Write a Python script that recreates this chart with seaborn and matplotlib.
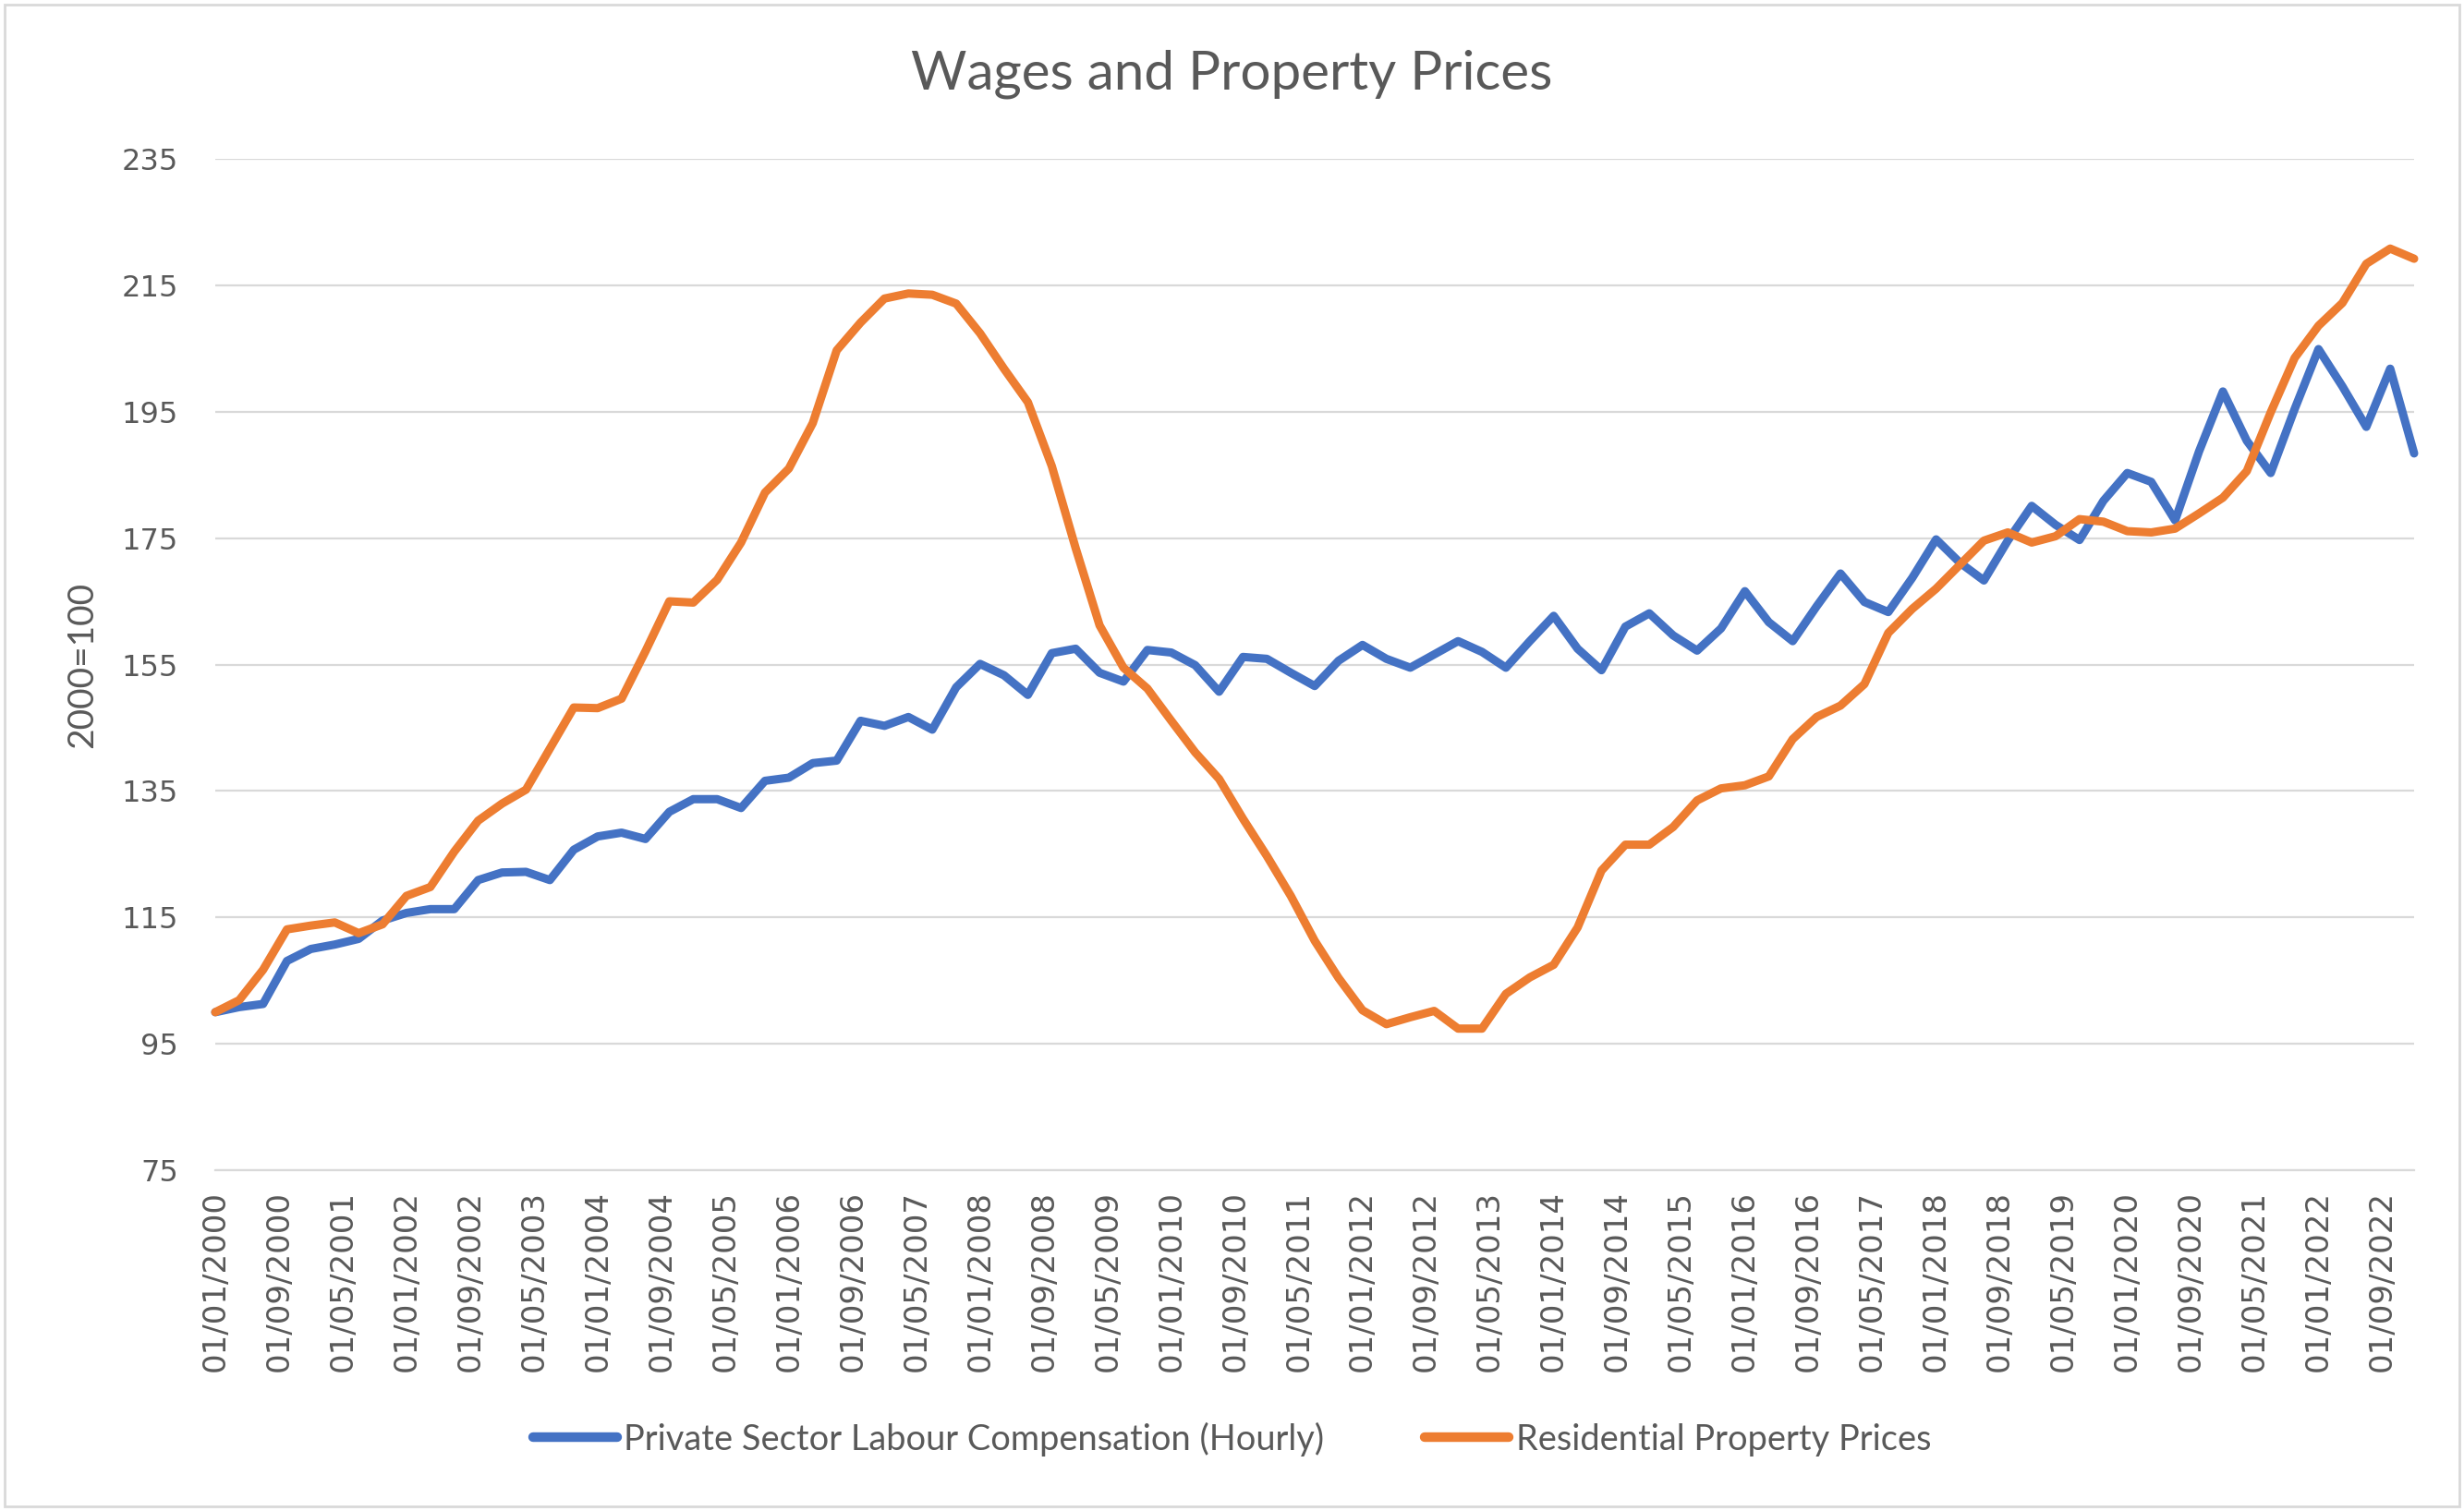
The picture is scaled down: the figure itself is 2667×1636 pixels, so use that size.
import pandas as pd
import seaborn as sns
from matplotlib import pyplot as plt
from matplotlib.patches import Rectangle

# quarterly index values, 2000 = 100 (Q1 2000 .. Q1 2023)
wages = [100.0, 100.8, 101.3, 108.1, 110.0, 110.7, 111.6, 114.5, 115.7, 116.3,
         116.3, 120.9, 122.1, 122.2, 120.9, 125.7, 127.8, 128.4, 127.4, 131.7,
         133.7, 133.7, 132.3, 136.6, 137.1, 139.4, 139.8, 146.1, 145.3, 146.7,
         144.7, 151.4, 155.1, 153.3, 150.2, 156.8, 157.5, 153.7, 152.3, 157.3,
         156.9, 154.9, 150.7, 156.2, 155.9, 153.7, 151.6, 155.6, 158.1, 155.9,
         154.5, 156.6, 158.7, 157.0, 154.5, 158.7, 162.7, 157.5, 154.1, 161.0,
         163.1, 159.6, 157.2, 160.7, 166.6, 161.7, 158.7, 164.2, 169.4, 164.9,
         163.3, 168.7, 174.8, 171.1, 168.3, 174.6, 180.1, 177.1, 174.7, 180.9,
         185.3, 183.9, 177.8, 188.7, 198.2, 190.4, 185.3, 195.4, 204.9, 199.0,
         192.6, 201.8, 188.4]

property_prices = [100.0, 101.9, 106.7, 113.1, 113.7, 114.2, 112.5, 113.9, 118.4, 119.8,
                   125.4, 130.3, 133.0, 135.2, 141.7, 148.2, 148.1, 149.6, 157.1, 165.0,
                   164.8, 168.4, 174.3, 182.2, 186.0, 193.2, 204.7, 209.1, 212.9, 213.7,
                   213.5, 212.1, 207.4, 201.8, 196.5, 186.4, 173.4, 161.2, 154.5, 151.2,
                   146.1, 141.1, 136.9, 130.6, 124.7, 118.4, 111.3, 105.4, 100.3, 98.1,
                   99.2, 100.2, 97.4, 97.4, 102.9, 105.5, 107.5, 113.4, 122.4, 126.5,
                   126.5, 129.3, 133.5, 135.4, 135.9, 137.3, 143.2, 146.7, 148.5, 151.9,
                   160.0, 163.8, 167.0, 170.8, 174.6, 175.9, 174.3, 175.3, 178.0, 177.6,
                   176.1, 175.9, 176.5, 178.9, 181.4, 185.6, 194.9, 203.5, 208.6, 212.2,
                   218.4, 220.8, 219.2]

dates = pd.date_range("2000-01-01", periods=len(wages), freq="QS")
tick_dates = pd.date_range("2000-01-01", "2022-09-01", freq="8MS")

label_wages = "Private Sector Labour Compensation (Hourly)"
label_prop = "Residential Property Prices"

# excel style date axis: every month has the same width
def month_no(d):
    return (d.year - 2000) * 12 + (d.month - 1)

df = pd.DataFrame({
    "month": [month_no(d) for d in dates] * 2,
    "value": wages + property_prices,
    "series": [label_wages] * len(wages) + [label_prop] * len(property_prices),
})

sns.set_style("white")
plt.rcParams["font.family"] = ["DejaVu Sans"]
grey = "#595959"

fig = plt.figure(figsize=(26.67, 16.36), dpi=100)
ax = fig.add_axes([233 / 2667, 1 - 1267 / 1636, 2380 / 2667, 1095 / 1636])

sns.lineplot(data=df, x="month", y="value", hue="series",
             palette={label_wages: "#4472C4", label_prop: "#ED7D31"},
             linewidth=6.5, ax=ax, legend=False, sort=False)
for line in ax.lines:
    line.set_solid_joinstyle("round")
    line.set_solid_capstyle("round")
    line.set_clip_on(False)

ax.set_xlim(0, month_no(dates[-1]))
ax.set_ylim(75, 235)
ax.set_yticks(range(75, 236, 20))
ax.set_xticks([month_no(d) for d in tick_dates])
ax.set_xticklabels([d.strftime("%d/%m/%Y") for d in tick_dates], rotation=90)

ax.grid(axis="y", color="#D9D9D9", linewidth=1.6)
ax.grid(axis="x", visible=False)
for s in ["top", "right", "left"]:
    ax.spines[s].set_visible(False)
ax.spines["bottom"].set_color("#D9D9D9")
ax.spines["bottom"].set_linewidth(1.6)
ax.tick_params(axis="x", direction="out", length=12, width=1.6, color="#D9D9D9",
               labelsize=24.5, labelcolor=grey, pad=4)
ax.tick_params(axis="y", length=0, labelsize=23, labelcolor=grey, pad=29)
ax.set_xlabel("")
ax.set_ylabel("2000=100", fontsize=28, color=grey, family="Lato", va="center")
ax.yaxis.set_label_coords(-0.0605, 0.5)

fig.text(0.5, 1 - 80 / 1636, "Wages and Property Prices", ha="center", va="center",
         fontsize=42, color=grey, family="Lato")

handles = [plt.Line2D([], [], color="#4472C4", linewidth=7.5, solid_capstyle="round"),
           plt.Line2D([], [], color="#ED7D31", linewidth=7.5, solid_capstyle="round")]
fig.legend(handles, [label_wages, label_prop], loc="center", ncol=2,
           bbox_to_anchor=(0.5, 1 - 1558 / 1636), frameon=False,
           prop={"family": "Lato", "size": 27.4}, labelcolor=grey,
           handlelength=2.4, handletextpad=0.2, columnspacing=2.85)

# thin chart border like the excel chart area
fig.patches.append(Rectangle((5 / 2667, 5 / 1636), 2657 / 2667, 1626 / 1636,
                             transform=fig.transFigure, fill=False,
                             edgecolor="#D9D9D9", linewidth=2))

fig.savefig("out.png", dpi=100, facecolor="white")
